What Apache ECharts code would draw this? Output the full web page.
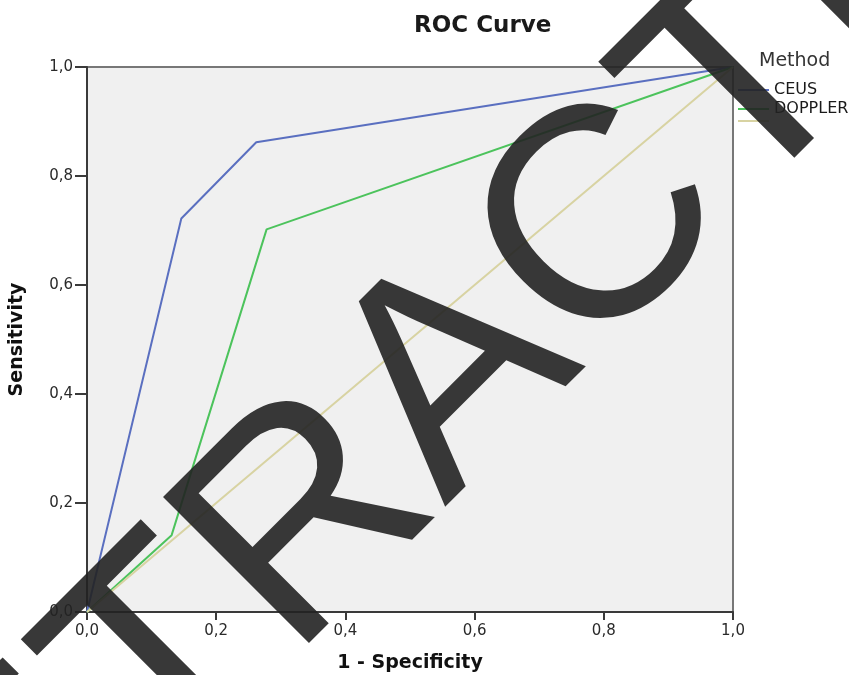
<!DOCTYPE html>
<html>
<head>
<meta charset="utf-8">
<script src="https://cdn.jsdelivr.net/npm/echarts@6/dist/echarts.min.js"></script>
<style>
  html, body { margin: 0; padding: 0; background: #fff; }
  #chart { width: 849px; height: 675px; }
</style>
</head>
<body>
<div id="chart"></div>
<script>
// ROC points (x = 1 - specificity, y = sensitivity)
const ceusX = [0, 0.146, 0.262, 1];
const ceusY = [0, 0.722, 0.862, 1];
const dopplerX = [0, 0.131, 0.278, 1];
const dopplerY = [0, 0.141, 0.702, 1];
const refX = [0, 1];
const refY = [0, 1];
const tickLabels = ["0,0", "0,2", "0,4", "0,6", "0,8", "1,0"];

const zip = (xs, ys) => xs.map((x, i) => [x, ys[i]]);
const fmt = v => tickLabels[Math.round(v * 5)];

const chart = echarts.init(document.getElementById("chart"), null, { renderer: "canvas" });
const font = "DejaVu Sans";
const lineIcon = "path://M0,0 L31,0 L31,2 L0,2 Z";

function legendFor(name, top, hideText) {
  return {
    data: [name],
    left: 733,
    top: top,
    icon: lineIcon,
    itemWidth: 31,
    itemHeight: 2,
    selectedMode: false,
    formatter: hideText ? () => "" : undefined,
    textStyle: { fontFamily: font, fontSize: 16, color: "#1a1a1a" }
  };
}

chart.setOption({
  animation: false,
  backgroundColor: "#fff",
  title: [
    {
      text: "ROC Curve",
      left: 409,
      top: 10,
      textStyle: { fontFamily: font, fontSize: 23, fontWeight: "bold", color: "#1a1a1a" }
    },
    {
      text: "Method",
      left: 754,
      top: 47,
      textStyle: { fontFamily: font, fontSize: 19, fontWeight: "normal", color: "#333" }
    }
  ],
  legend: [
    legendFor("CEUS", 77),
    legendFor("DOPPLER", 96),
    legendFor("Reference Line", 115, true)
  ],
  grid: {
    left: 87, top: 67, right: 116, bottom: 63,
    containLabel: false,
    outerBoundsMode: "none",
    show: true,
    backgroundColor: "#f0f0f0",
    borderColor: "#777",
    borderWidth: 2
  },
  xAxis: {
    type: "value",
    min: 0, max: 1, interval: 0.2,
    name: "1 - Specificity",
    nameLocation: "middle",
    nameGap: 42,
    nameTextStyle: { fontFamily: font, fontSize: 19, fontWeight: "bold", color: "#111" },
    axisLine: { lineStyle: { color: "#3a3a3a", width: 2 } },
    axisTick: { show: true, length: 8, lineStyle: { color: "#3a3a3a", width: 2 } },
    axisLabel: { fontFamily: font, fontSize: 15, color: "#2a2a2a", margin: 12, formatter: fmt },
    splitLine: { show: false }
  },
  yAxis: {
    type: "value",
    min: 0, max: 1, interval: 0.2,
    name: "Sensitivity",
    nameLocation: "middle",
    nameGap: 60,
    nameTextStyle: { fontFamily: font, fontSize: 19, fontWeight: "bold", color: "#111" },
    axisLine: { show: true, lineStyle: { color: "#3a3a3a", width: 2 } },
    axisTick: { show: true, length: 12, lineStyle: { color: "#3a3a3a", width: 2 } },
    axisLabel: { fontFamily: font, fontSize: 15, color: "#2a2a2a", margin: 14, formatter: fmt },
    splitLine: { show: false }
  },
  series: [
    {
      name: "CEUS", type: "line", data: zip(ceusX, ceusY),
      symbol: "none", color: "#5a6fc0", lineStyle: { width: 2 }
    },
    {
      name: "DOPPLER", type: "line", data: zip(dopplerX, dopplerY),
      symbol: "none", color: "#4cc35c", lineStyle: { width: 2 }
    },
    {
      name: "Reference Line", type: "line", data: zip(refX, refY),
      symbol: "none", color: "#d8d3a2", lineStyle: { width: 2 }
    }
  ],
  graphic: [
    {
      type: "text",
      x: 457,
      y: 378,
      rotation: Math.PI / 4,
      z: 100,
      silent: true,
      style: {
        x: 0, y: 0,
        text: "RETRACTED",
        align: "center",
        verticalAlign: "middle",
        font: "300px 'Liberation Sans'",
        fill: "rgba(34,34,34,0.9)"
      }
    }
  ]
});
</script>
</body>
</html>
